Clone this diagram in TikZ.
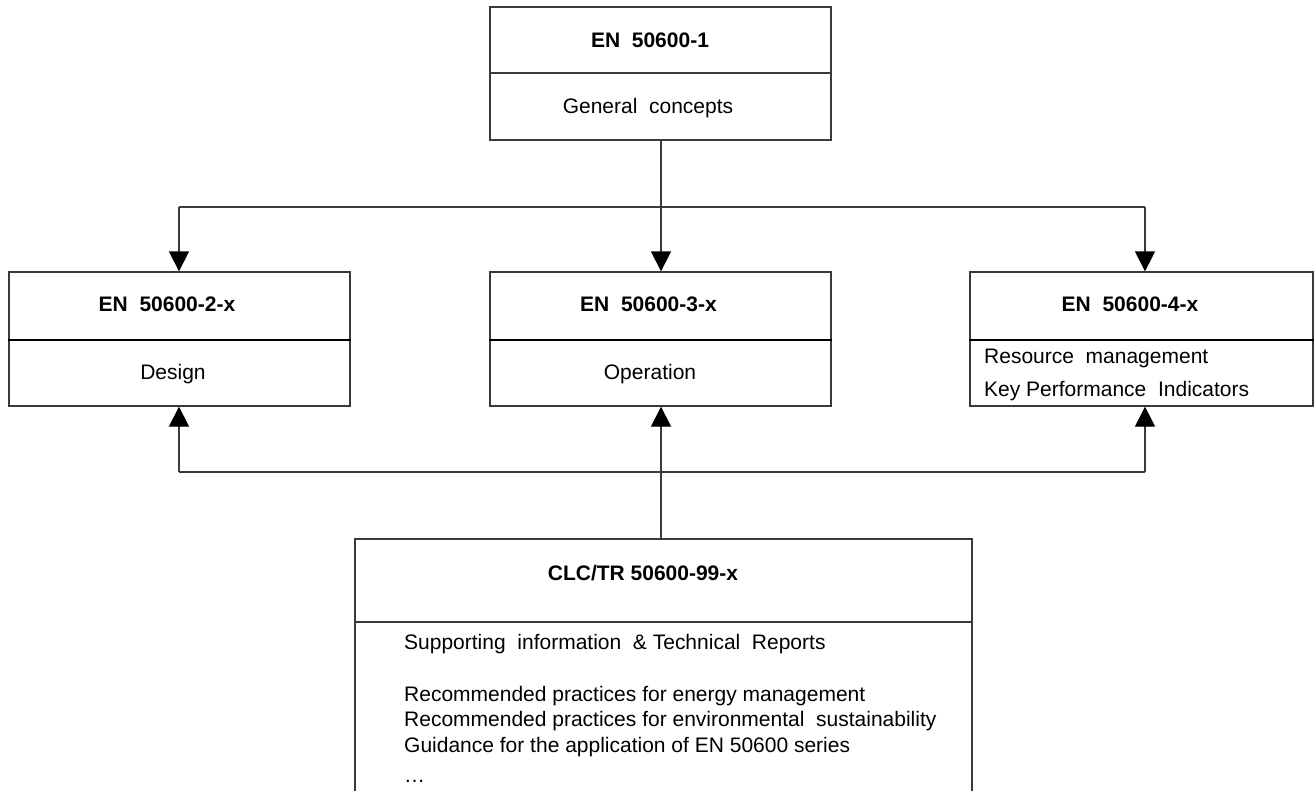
\documentclass[tikz,border=0pt]{standalone}
\usepackage{fontspec}
\setmainfont{Liberation Sans}
\usetikzlibrary{arrows.meta}
\definecolor{linegray}{HTML}{3A3A3A}
\newcommand{\dsp}{\ \ }
\tikzset{
  box/.style={draw=linegray, line width=1.3pt, fill=white, inner sep=0pt, anchor=center},
  title/.style={inner sep=0pt, font=\fontsize{21}{25}\selectfont\bfseries},
  body/.style={inner sep=0pt, font=\fontsize{21}{25}\selectfont},
  conn/.style={draw=linegray, line width=1.3pt},
  arr/.style={conn, -{Triangle[width=20pt,length=20pt,color=black]}},
  divthin/.style={draw=linegray, line width=1.3pt},
  divthick/.style={draw=black, line width=2.4pt},
}
\begin{document}
\begin{tikzpicture}[x=1pt,y=-1pt]
\path[use as bounding box, clip] (0,0) rectangle (1314,790);
\fill[white] (0,0) rectangle (1314,790);

% boxes
\node[box, minimum width=341pt, minimum height=133pt] (b1) at (660.5,73.5) {};
\node[box, minimum width=341pt, minimum height=134pt] (b2) at (179.5,339) {};
\node[box, minimum width=341pt, minimum height=134pt] (b3) at (660.5,339) {};
\node[box, minimum width=343pt, minimum height=134pt] (b4) at (1141.5,339) {};
\node[box, minimum width=617pt, minimum height=300pt] (b5) at (663.5,689) {};

% dividers
\draw[divthin] (b1.west |- 0,73) -- (b1.east |- 0,73);
\draw[divthick] (b2.west |- 0,340) -- (b2.east |- 0,340);
\draw[divthick] (b3.west |- 0,340) -- (b3.east |- 0,340);
\draw[divthick] (b4.west |- 0,340) -- (b4.east |- 0,340);
\draw[divthin] (b5.west |- 0,622) -- (b5.east |- 0,622);

% texts
\node[title] (t1) at (650,40) {EN\dsp 50600-1};
\node[body] (d1) at (648,108) {General\dsp concepts};
\node[title] (t2) at (167,304) {EN\dsp 50600-2-x};
\node[body] (d2) at (173,374) {Design};
\node[title] (t3) at (648.5,304) {EN\dsp 50600-3-x};
\node[body] (d3) at (650,374) {Operation};
\node[title] (t4) at (1130,304) {EN\dsp 50600-4-x};
\node[body, anchor=west] (d4a) at (984,358) {Resource\dsp management};
\node[body, anchor=west] (d4b) at (984,391) {Key Performance\dsp Indicators};
\node[title] (t5) at (643,573) {CLC/TR 50600-99-x};
\node[body, anchor=west] (d5a) at (404,644) {Supporting\dsp information\dsp \& Technical\dsp Reports};
\node[body, anchor=west] (d5b) at (404,696.5) {Recommended practices for energy management};
\node[body, anchor=west] (d5c) at (404,721.5) {Recommended practices for environmental\dsp sustainability};
\node[body, anchor=west] (d5d) at (404,747.5) {Guidance for the application of EN 50600 series};
\node[body, anchor=west] (d5e) at (404,781) {\dots};

% upper connectors
\coordinate (jt) at (661,207);
\coordinate (jl) at (179,207);
\coordinate (jr) at (1145,207);
\draw[conn] (b1.south -| jt) -- (jt);
\draw[conn] (jl) -- (jr);
\draw[arr] (jl) -- (jl |- b2.north);
\draw[arr] (jt) -- (jt |- b3.north);
\draw[arr] (jr) -- (jr |- b4.north);

% lower connectors
\coordinate (ll) at (179,472);
\coordinate (lr) at (1145,472);
\draw[conn] (ll) -- (lr);
\draw[arr] (ll) -- (ll |- b2.south);
\draw[arr] (lr) -- (lr |- b4.south);
\draw[arr] (b5.north -| jt) -- (jt |- b3.south);
\end{tikzpicture}
\end{document}
